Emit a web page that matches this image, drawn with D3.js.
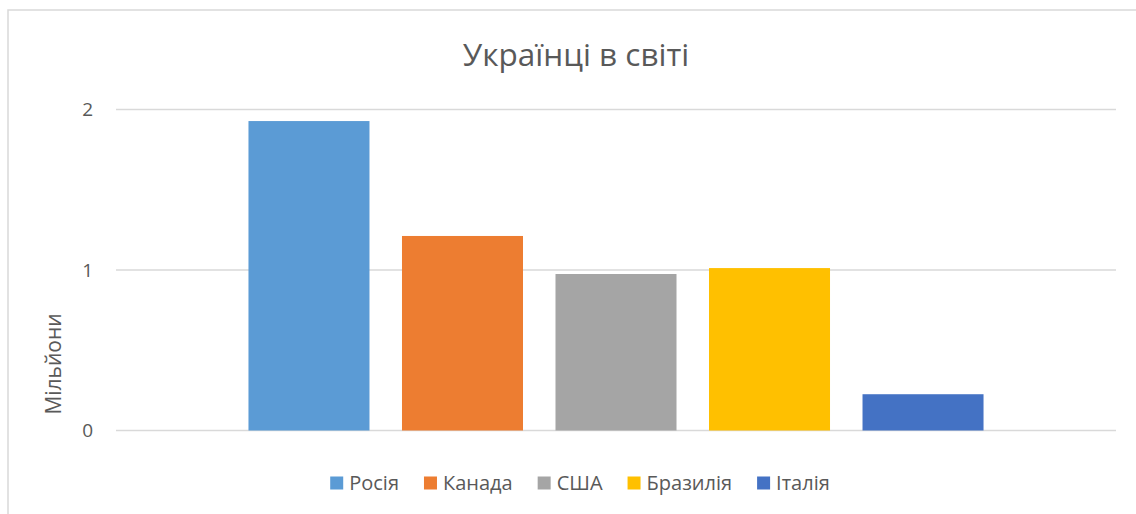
<!DOCTYPE html>
<html>
<head>
<meta charset="utf-8">
<script src="https://cdn.jsdelivr.net/npm/d3@7"></script>
<style>
  body { margin: 0; background: #fff; }
  svg { display: block; }
  text { font-family: 'Open Sans', 'Noto Sans', sans-serif; fill: #595959; }
</style>
</head>
<body>
<svg id="chart" width="1136" height="514"></svg>
<script>
const title = 'Українці в світі'
const yLabel = 'Мільйони'
const category = ['Українці']
const countries = ['Росія', 'Канада', 'США', 'Бразилія', 'Італія']
const millions = [1.928, 1.212, 0.975, 1.012, 0.226]
const colors = ['#5B9BD5', '#ED7D31', '#A5A5A5', '#FFC000', '#4472C4']
const yTicks = [0, 1, 2]

const svg = d3.select('#chart')
const margins = { top: 109.5, right: 20, bottom: 83.5, left: 116 }
const width = 1136 - margins.left - margins.right
const height = 514 - margins.top - margins.bottom

// chart frame
svg.append('rect')
  .attr('x', 8).attr('y', 10)
  .attr('width', 1140).attr('height', 520)
  .attr('fill', 'none')
  .attr('stroke', '#d9d9d9')
  .attr('stroke-width', 1.5)

const g = svg.append('g')
  .attr('transform', `translate(${margins.left}, ${margins.top})`)

const x0 = d3.scaleBand().domain(category).range([0, width]).padding(0.1527)
const x1 = d3.scaleBand().domain(countries).range([0, x0.bandwidth()]).paddingInner(0.2117)
const y = d3.scaleLinear().domain([0, 2]).range([height, 0])
const z = d3.scaleOrdinal().domain(countries).range(colors)

// gridlines
g.append('g')
  .attr('class', 'grid')
  .selectAll('line')
  .data(yTicks)
  .enter()
  .append('line')
  .attr('x1', 0)
  .attr('x2', width)
  .attr('y1', (d) => y(d))
  .attr('y2', (d) => y(d))
  .attr('stroke', '#d9d9d9')
  .attr('stroke-width', 1.5)

// y axis labels
const yAxis = g.append('g')
  .call(d3.axisLeft(y).tickValues(yTicks).tickFormat(d3.format('d')).tickSize(0).tickPadding(23))
yAxis.select('.domain').remove()
yAxis.selectAll('text')
  .style('font-size', '19px')
  .attr('fill', '#595959')

// bars
g.append('g')
  .selectAll('g')
  .data(category)
  .enter()
  .append('g')
  .attr('transform', (d) => `translate(${x0(d)}, 0)`)
  .selectAll('rect')
  .data(countries.map((c, i) => ({ key: c, value: millions[i] })))
  .enter()
  .append('rect')
  .attr('x', (d) => x1(d.key))
  .attr('y', (d) => y(d.value))
  .attr('width', x1.bandwidth())
  .attr('height', (d) => y(0) - y(d.value))
  .attr('fill', (d) => z(d.key))

// title
svg.append('text')
  .attr('x', 576)
  .attr('y', 66)
  .attr('text-anchor', 'middle')
  .style('font-size', '31.5px')
  .text(title)

// y axis title
svg.append('text')
  .attr('transform', 'translate(61, 364) rotate(-90)')
  .attr('text-anchor', 'middle')
  .style('font-size', '21px')
  .text(yLabel)

// legend
const legend = svg.append('g').attr('class', 'legend')
const items = legend.selectAll('g')
  .data(countries)
  .enter()
  .append('g')
items.append('rect')
  .attr('width', 13)
  .attr('height', 13)
  .attr('y', -6.5)
  .attr('fill', (d) => z(d))
items.append('text')
  .attr('x', 19)
  .attr('dy', '0.35em')
  .style('font-size', '20px')
  .text((d) => d)

let offset = 0
items.each(function () {
  const w = this.querySelector('text').getComputedTextLength()
  d3.select(this).attr('transform', `translate(${offset}, 0)`)
  offset += 19 + w + 25
})
const legendWidth = offset - 25
legend.attr('transform', `translate(${580 - legendWidth / 2}, 483)`)
</script>
</body>
</html>
